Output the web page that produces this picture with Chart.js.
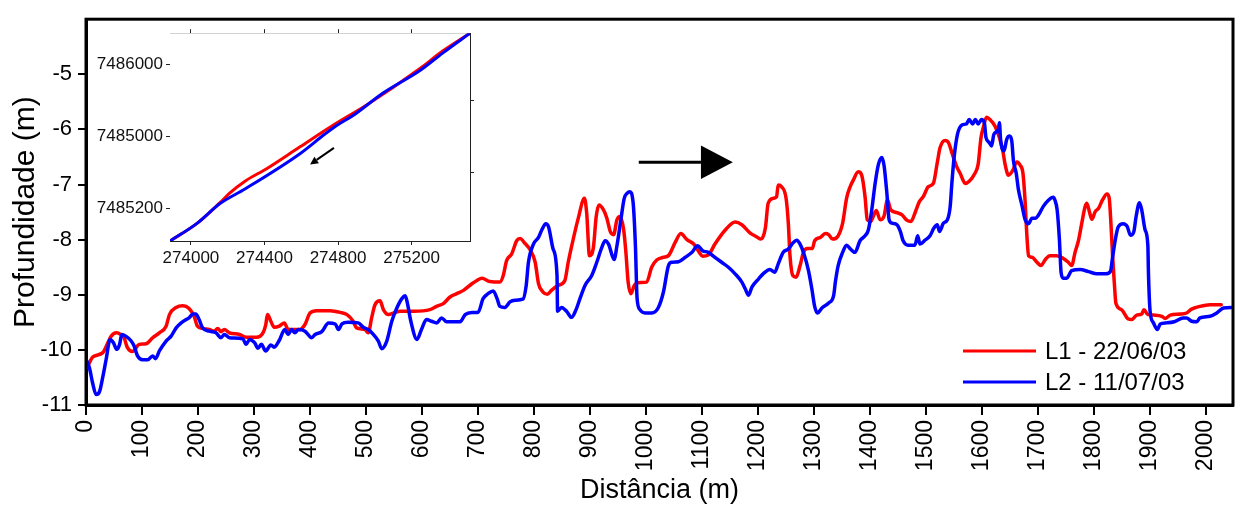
<!DOCTYPE html>
<html>
<head>
<meta charset="utf-8">
<script src="https://cdn.jsdelivr.net/npm/chart.js@4"></script>
<style>
  body { margin: 0; background: #fff; }
  #wrap { position: relative; width: 1245px; height: 510px; }
  #perfil { position: absolute; left: 0; top: 0; }
  #mapa { position: absolute; left: 90px; top: 20px; }
</style>
</head>
<body>
<div id="wrap">
  <canvas id="perfil" width="1245" height="510"></canvas>
  <canvas id="mapa" width="390" height="260"></canvas>
</div>
<script>
// perfis batimétricos: [distância (m), profundidade (m)]
const perfilL1 = [
  [2,-10.32],[12,-10.13],[30,-10.05],[39,-9.87],[45,-9.75],[54,-9.69],[62,-9.72],[68,-9.78],[74,-9.96],[83,-10.03],
  [95,-9.90],[107,-9.89],[119,-9.78],[131,-9.69],[143,-9.57],[149,-9.36],[161,-9.23],[173,-9.20],[184,-9.25],[193,-9.39],
  [199,-9.57],[208,-9.61],[220,-9.63],[229,-9.66],[235,-9.61],[241,-9.67],[247,-9.63],[256,-9.69],[274,-9.72],[286,-9.77],
  [304,-9.77],[316,-9.69],[321,-9.54],[324,-9.36],[330,-9.48],[336,-9.59],[345,-9.57],[354,-9.51],[361,-9.63],[382,-9.63],
  [391,-9.54],[400,-9.33],[412,-9.29],[436,-9.29],[454,-9.32],[466,-9.36],[477,-9.48],[483,-9.60],[498,-9.63],[504,-9.69],
  [510,-9.42],[516,-9.18],[525,-9.11],[531,-9.27],[540,-9.36],[552,-9.32],[561,-9.30],[585,-9.30],[614,-9.27],[626,-9.21],
  [638,-9.16],[650,-9.04],[662,-8.98],[674,-8.92],[689,-8.80],[698,-8.74],[707,-8.70],[721,-8.76],[739,-8.77],[745,-8.65],
  [751,-8.38],[760,-8.26],[769,-8.02],[775,-7.98],[784,-8.07],[793,-8.18],[802,-8.41],[808,-8.80],[816,-8.95],[824,-8.99],
  [831,-8.92],[843,-8.83],[855,-8.74],[861,-8.41],[870,-7.99],[879,-7.61],[890,-7.25],[894,-7.52],[899,-8.29],[906,-8.14],
  [911,-7.58],[916,-7.37],[924,-7.46],[930,-7.61],[936,-7.85],[942,-7.91],[948,-7.64],[954,-7.58],[960,-7.82],[964,-8.23],
  [968,-8.77],[973,-8.98],[979,-8.83],[986,-8.78],[1001,-8.77],[1010,-8.50],[1019,-8.37],[1031,-8.32],[1040,-8.29],[1052,-8.05],
  [1062,-7.89],[1073,-8.00],[1085,-8.08],[1095,-8.23],[1101,-8.30],[1111,-8.28],[1123,-8.08],[1141,-7.83],[1159,-7.68],[1171,-7.73],
  [1186,-7.88],[1198,-7.95],[1205,-7.99],[1213,-7.79],[1218,-7.34],[1227,-7.25],[1233,-7.22],[1236,-7.01],[1242,-7.04],[1250,-7.25],
  [1254,-7.70],[1257,-8.29],[1262,-8.65],[1268,-8.68],[1275,-8.47],[1281,-8.23],[1288,-8.16],[1297,-8.16],[1301,-8.02],[1311,-7.96],
  [1320,-7.89],[1326,-7.91],[1333,-7.99],[1343,-7.93],[1351,-7.70],[1358,-7.25],[1364,-7.05],[1370,-6.92],[1379,-6.77],[1385,-6.83],
  [1391,-7.22],[1395,-7.64],[1401,-7.67],[1411,-7.47],[1418,-7.64],[1425,-7.57],[1431,-7.28],[1437,-7.46],[1448,-7.51],[1457,-7.55],
  [1466,-7.65],[1473,-7.67],[1480,-7.52],[1488,-7.31],[1495,-7.22],[1504,-7.04],[1513,-6.98],[1520,-6.60],[1525,-6.33],[1534,-6.20],
  [1540,-6.24],[1546,-6.42],[1554,-6.66],[1561,-6.80],[1570,-6.98],[1577,-6.94],[1587,-6.80],[1593,-6.63],[1598,-6.15],[1602,-5.97],
  [1608,-5.78],[1614,-5.82],[1623,-5.94],[1631,-6.15],[1637,-6.39],[1641,-6.63],[1647,-6.83],[1655,-6.74],[1662,-6.59],[1668,-6.65],
  [1673,-6.80],[1677,-7.34],[1680,-7.93],[1683,-8.29],[1689,-8.32],[1698,-8.41],[1705,-8.47],[1713,-8.36],[1721,-8.29],[1733,-8.29],
  [1745,-8.34],[1754,-8.41],[1760,-8.47],[1766,-8.23],[1772,-8.02],[1778,-7.70],[1784,-7.40],[1787,-7.34],[1792,-7.51],[1796,-7.63],
  [1802,-7.49],[1808,-7.43],[1815,-7.28],[1823,-7.17],[1827,-7.25],[1830,-7.70],[1833,-8.29],[1836,-8.77],[1839,-9.16],[1849,-9.27],
  [1861,-9.44],[1867,-9.45],[1876,-9.37],[1885,-9.35],[1889,-9.27],[1896,-9.36],[1909,-9.37],[1921,-9.39],[1927,-9.43],[1936,-9.37],
  [1954,-9.35],[1965,-9.33],[1974,-9.26],[1989,-9.21],[2007,-9.18],[2027,-9.18]
];

const perfilL2 = [
  [0,-10.17],[6,-10.32],[12,-10.61],[18,-10.81],[24,-10.76],[30,-10.49],[36,-10.17],[43,-9.81],[49,-9.87],[55,-9.99],
  [60,-9.90],[64,-9.72],[71,-9.75],[80,-9.83],[86,-9.93],[92,-10.11],[101,-10.18],[110,-10.18],[119,-10.11],[124,-10.16],
  [131,-10.02],[143,-9.84],[152,-9.75],[161,-9.60],[170,-9.51],[179,-9.45],[184,-9.42],[191,-9.35],[196,-9.35],[202,-9.45],
  [208,-9.60],[220,-9.66],[232,-9.69],[241,-9.78],[247,-9.72],[256,-9.78],[280,-9.80],[286,-9.90],[292,-9.81],[301,-9.87],
  [307,-9.97],[313,-9.90],[321,-10.02],[330,-9.91],[336,-9.95],[345,-9.83],[355,-9.63],[361,-9.72],[367,-9.63],[373,-9.69],
  [379,-9.63],[391,-9.66],[403,-9.78],[409,-9.72],[421,-9.67],[433,-9.51],[445,-9.53],[451,-9.63],[457,-9.53],[468,-9.50],
  [486,-9.51],[495,-9.59],[504,-9.63],[513,-9.72],[522,-9.84],[528,-9.98],[537,-9.84],[546,-9.48],[555,-9.24],[564,-9.07],
  [570,-9.02],[574,-9.16],[580,-9.48],[591,-9.81],[599,-9.63],[608,-9.45],[617,-9.48],[626,-9.51],[635,-9.42],[644,-9.49],
  [668,-9.49],[677,-9.36],[689,-9.32],[700,-9.32],[709,-9.07],[718,-8.98],[727,-8.93],[734,-9.07],[739,-9.21],[748,-9.23],
  [757,-9.13],[766,-9.10],[780,-9.08],[786,-8.83],[790,-8.41],[799,-8.08],[808,-7.96],[814,-7.82],[821,-7.71],[826,-7.77],
  [834,-8.17],[841,-8.65],[842,-9.30],[849,-9.23],[858,-9.30],[867,-9.41],[875,-9.27],[882,-9.07],[891,-8.83],[903,-8.65],
  [912,-8.41],[921,-8.14],[927,-8.02],[933,-8.08],[943,-8.36],[948,-8.11],[955,-7.64],[961,-7.25],[966,-7.16],[971,-7.13],
  [977,-7.34],[981,-8.11],[984,-9.07],[989,-9.27],[998,-9.33],[1010,-9.33],[1022,-9.23],[1031,-8.95],[1040,-8.47],[1046,-8.41],
  [1058,-8.40],[1070,-8.32],[1082,-8.23],[1092,-8.11],[1101,-8.20],[1111,-8.23],[1123,-8.32],[1135,-8.41],[1147,-8.50],[1159,-8.62],
  [1171,-8.77],[1177,-8.89],[1183,-9.01],[1189,-8.86],[1201,-8.71],[1209,-8.62],[1221,-8.54],[1230,-8.59],[1236,-8.44],[1245,-8.23],
  [1254,-8.17],[1263,-8.05],[1269,-8.01],[1275,-8.08],[1282,-8.26],[1290,-8.56],[1296,-8.89],[1301,-9.21],[1306,-9.33],[1314,-9.24],
  [1326,-9.15],[1335,-9.01],[1338,-8.77],[1343,-8.47],[1351,-8.23],[1358,-8.10],[1365,-8.17],[1373,-8.23],[1382,-8.02],[1391,-7.93],
  [1397,-7.82],[1403,-7.46],[1409,-6.98],[1415,-6.63],[1421,-6.51],[1425,-6.66],[1430,-7.16],[1434,-7.64],[1439,-7.70],[1448,-7.73],
  [1454,-7.85],[1459,-8.02],[1468,-8.10],[1480,-8.10],[1485,-7.93],[1489,-8.08],[1498,-8.01],[1507,-7.93],[1514,-7.79],[1520,-7.73],
  [1524,-7.85],[1531,-7.70],[1538,-7.64],[1543,-7.40],[1546,-6.98],[1550,-6.51],[1556,-6.09],[1564,-5.92],[1572,-5.90],[1577,-5.82],
  [1583,-5.90],[1588,-5.82],[1593,-5.90],[1599,-5.82],[1604,-5.88],[1607,-6.15],[1613,-6.24],[1617,-6.30],[1621,-6.09],[1629,-6.00],
  [1631,-5.88],[1633,-6.18],[1639,-6.39],[1644,-6.18],[1649,-6.12],[1653,-6.21],[1656,-6.57],[1661,-6.80],[1665,-7.10],[1671,-7.37],
  [1677,-7.64],[1683,-7.71],[1689,-7.61],[1695,-7.61],[1701,-7.55],[1709,-7.40],[1718,-7.29],[1727,-7.23],[1730,-7.28],[1734,-7.46],
  [1738,-7.99],[1741,-8.59],[1745,-8.70],[1751,-8.70],[1760,-8.56],[1775,-8.54],[1790,-8.58],[1805,-8.62],[1820,-8.62],[1829,-8.58],
  [1833,-8.32],[1838,-7.99],[1843,-7.77],[1852,-7.71],[1859,-7.76],[1865,-7.92],[1871,-7.85],[1875,-7.58],[1881,-7.33],[1885,-7.46],
  [1891,-7.82],[1896,-8.11],[1897,-8.59],[1900,-9.30],[1906,-9.51],[1913,-9.63],[1918,-9.53],[1929,-9.51],[1943,-9.49],[1959,-9.42],
  [1965,-9.42],[1974,-9.48],[1983,-9.49],[1989,-9.42],[2007,-9.39],[2019,-9.33],[2031,-9.24],[2048,-9.23]
];

// trajetos das linhas no mapa: [E (m), N (m)]
const mapaL1 = [
  [273886,7485020],[274033,7485118],[274158,7485233],[274212,7485287],[274294,7485352],[274414,7485423],
  [274593,7485543],[274773,7485663],[274958,7485777],[275246,7485978],[275371,7486076],[275518,7486174]
];
const mapaL2 = [
  [273886,7485020],[274033,7485118],[274158,7485228],[274294,7485309],[274593,7485505],[274729,7485614],
  [274795,7485663],[274882,7485717],[275045,7485842],[275246,7485967],[275371,7486065],[275518,7486174]
];

const seriesNames = ['L1 - 22/06/03', 'L2 - 11/07/03'];
const seriesColors = ['#ff0000', '#0000ff'];

const xTicks = [0,100,200,300,400,500,600,700,800,900,1000,1100,1200,1300,1400,1500,1600,1700,1800,1900,2000];
const yTicks = [-11,-10,-9,-8,-7,-6,-5];
const mapaXTicks = [274000, 274400, 274800, 275200];
const mapaYTicks = [7485200, 7485600, 7486000];
const mapaYTickLabels = ['7485200', '7485000', '7486000'];
const mapaYMinorTicks = [7485400, 7485800];

const FONTE = 'Arial, "Liberation Sans", sans-serif';
Chart.defaults.font.family = FONTE;
Chart.defaults.color = '#000';

const toPoints = arr => arr.map(p => ({ x: p[0], y: p[1] }));
const fixTicks = list => scale => { scale.ticks = list.map(v => ({ value: v })); };

function drawArrow(ctx, x0, y0, x1, y1, headLen, headHalf, lw) {
  const ang = Math.atan2(y1 - y0, x1 - x0);
  const bx = x1 - headLen * Math.cos(ang), by = y1 - headLen * Math.sin(ang);
  ctx.save();
  ctx.strokeStyle = '#000';
  ctx.fillStyle = '#000';
  ctx.lineWidth = lw;
  ctx.beginPath();
  ctx.moveTo(x0, y0);
  ctx.lineTo(bx, by);
  ctx.stroke();
  ctx.beginPath();
  ctx.moveTo(x1, y1);
  ctx.lineTo(bx + headHalf * Math.sin(ang), by - headHalf * Math.cos(ang));
  ctx.lineTo(bx - headHalf * Math.sin(ang), by + headHalf * Math.cos(ang));
  ctx.closePath();
  ctx.fill();
  ctx.restore();
}

// moldura grossa em volta da área do gráfico
const moldura = {
  id: 'moldura',
  afterDatasetsDraw(chart) {
    const { ctx, chartArea: a } = chart;
    ctx.save();
    ctx.strokeStyle = '#000';
    ctx.lineWidth = 3;
    ctx.strokeRect(a.left, a.top, a.right - a.left, a.bottom - a.top);
    ctx.restore();
  }
};

// seta do sentido do levantamento
const setaPerfil = {
  id: 'setaPerfil',
  afterDatasetsDraw(chart) {
    const { x, y } = chart.scales;
    const yc = y.getPixelForValue(-6.595);
    const x0 = x.getPixelForValue(987), x1 = x.getPixelForValue(1155);
    const half = y.getPixelForValue(-6.595 - 0.304) - yc;
    drawArrow(chart.ctx, x0, yc, x1, yc, x1 - x.getPixelForValue(1098), half, 3);
  }
};

// legenda dentro do gráfico, canto inferior direito
const legenda = {
  id: 'legenda',
  afterDraw(chart) {
    const { ctx, chartArea: a } = chart;
    ctx.save();
    ctx.font = '24px ' + FONTE;
    ctx.textBaseline = 'middle';
    ctx.fillStyle = '#000';
    chart.data.datasets.forEach((ds, i) => {
      const yy = a.bottom - 54 + i * 31;
      ctx.strokeStyle = ds.borderColor;
      ctx.lineWidth = 3;
      ctx.beginPath();
      ctx.moveTo(a.right - 270, yy);
      ctx.lineTo(a.right - 197, yy);
      ctx.stroke();
      ctx.fillText(ds.label, a.right - 188, yy + 1);
    });
    ctx.restore();
  }
};

const linha = (i, pts, lw, ordem) => ({
  label: seriesNames[i], data: toPoints(pts), borderColor: seriesColors[i], borderWidth: lw,
  pointRadius: 0, tension: 0.25, cubicInterpolationMode: 'monotone', fill: false, order: ordem,
  borderJoinStyle: 'round', borderCapStyle: 'round'
});

new Chart(document.getElementById('perfil'), {
  type: 'line',
  data: {
    datasets: [linha(0, perfilL1, 3.5, 1), linha(1, perfilL2, 3.5, 0)]
  },
  options: {
    responsive: false,
    animation: false,
    devicePixelRatio: 1,
    layout: { padding: { top: 13, right: 12, left: 0, bottom: 0 } },
    plugins: { legend: { display: false }, tooltip: { enabled: false } },
    scales: {
      x: {
        type: 'linear', min: 0, max: 2048,
        afterBuildTicks: fixTicks(xTicks),
        afterFit: s => { s.height = 105; },
        ticks: { autoSkip: false, minRotation: 90, maxRotation: 90, padding: 5,
                 font: { size: 23 }, callback: v => String(v) },
        grid: { drawOnChartArea: false, drawTicks: true, tickLength: 10, lineWidth: 2, color: '#000' },
        border: { display: true, width: 3, color: '#000' },
        title: { display: true, text: 'Distância (m)', font: { size: 27 }, padding: { top: 0, bottom: 3 } }
      },
      y: {
        type: 'linear', min: -11, max: -4,
        afterBuildTicks: fixTicks(yTicks),
        afterFit: s => { s.width = 86; },
        ticks: { padding: 6, font: { size: 22 }, callback: v => String(v) },
        grid: { drawOnChartArea: false, drawTicks: true, tickLength: 8, lineWidth: 2, color: '#000' },
        border: { display: true, width: 3, color: '#000' },
        title: { display: true, text: 'Profundidade (m)', font: { size: 30 }, padding: { top: 8, bottom: 0 } }
      }
    }
  },
  plugins: [moldura, setaPerfil, legenda]
});

// mapa de localização (detalhe)
const fundoMapa = {
  id: 'fundoMapa',
  beforeDatasetsDraw(chart) {
    const { ctx, chartArea: a } = chart;
    ctx.save();
    ctx.fillStyle = '#fff';
    ctx.fillRect(a.left, a.top, a.right - a.left, a.bottom - a.top);
    ctx.restore();
  }
};

const setaMapa = {
  id: 'setaMapa',
  afterDatasetsDraw(chart) {
    const { x, y } = chart.scales;
    drawArrow(chart.ctx,
      x.getPixelForValue(274778), y.getPixelForValue(7485537),
      x.getPixelForValue(274648), y.getPixelForValue(7485445), 8, 4, 2);
  }
};

const eixoMapa = {
  grid: { drawOnChartArea: false, drawTicks: true, tickLength: 4, lineWidth: 1, color: '#222' },
  border: { display: true, width: 1, color: '#222' }
};

new Chart(document.getElementById('mapa'), {
  type: 'line',
  data: {
    datasets: [linha(0, mapaL1, 3, 1), linha(1, mapaL2, 3, 0)]
  },
  options: {
    responsive: false,
    animation: false,
    devicePixelRatio: 1,
    layout: { padding: 0 },
    plugins: { legend: { display: false }, tooltip: { enabled: false } },
    scales: {
      x: {
        type: 'linear', position: 'bottom', min: 273886, max: 275518,
        afterBuildTicks: fixTicks(mapaXTicks),
        afterFit: s => { s.height = 39; },
        ticks: { autoSkip: false, maxRotation: 0, padding: 3, font: { size: 17 }, color: '#111',
                 callback: v => String(v) },
        ...eixoMapa
      },
      xTopo: {
        type: 'linear', position: 'top', min: 273886, max: 275518,
        afterBuildTicks: fixTicks(mapaXTicks),
        afterFit: s => { s.height = 9; },
        ticks: { display: false },
        ...eixoMapa
      },
      y: {
        type: 'linear', position: 'left', min: 7485020, max: 7486174,
        afterBuildTicks: fixTicks(mapaYTicks),
        afterFit: s => { s.width = 80; },
        ticks: { padding: 3, font: { size: 17 }, color: '#111',
                 callback: (v, i) => mapaYTickLabels[i] },
        ...eixoMapa
      },
      yDireita: {
        type: 'linear', position: 'right', min: 7485020, max: 7486174,
        afterBuildTicks: fixTicks(mapaYMinorTicks),
        afterFit: s => { s.width = 10; },
        ticks: { display: false },
        ...eixoMapa
      }
    }
  },
  plugins: [fundoMapa, setaMapa]
});
</script>
</body>
</html>
